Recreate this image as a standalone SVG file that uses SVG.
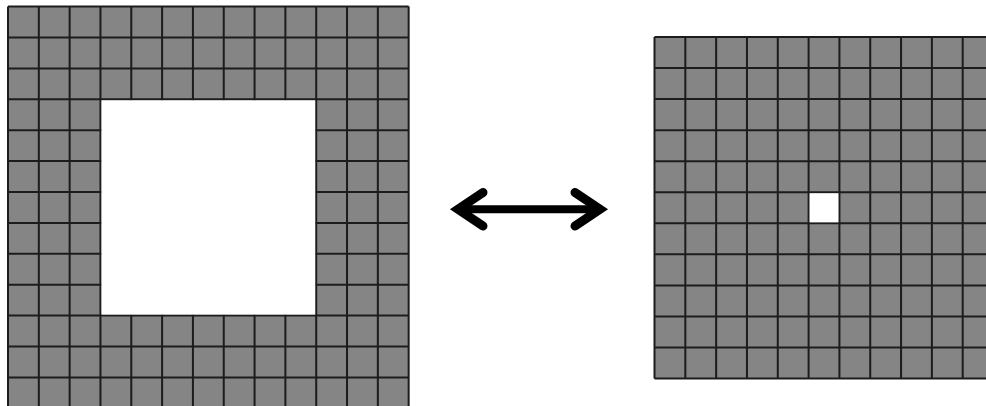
<svg xmlns="http://www.w3.org/2000/svg" width="986" height="406" viewBox="0 0 986 406">
<style>
.cell{fill:#858585;}
.grid{fill:none;stroke:#1c1c1c;stroke-width:2;}
.hole{fill:#ffffff;}
.arrow{fill:none;stroke:#000;stroke-width:9;stroke-linecap:round;stroke-linejoin:miter;stroke-miterlimit:10;}
</style>
<rect width="986" height="406" fill="#ffffff"/>
<g id="grid-left">
<rect class="cell" x="8" y="6.6" width="400.66" height="401.7"/>
<path class="grid" d="M8 6.6V408.3M38.82 6.6V408.3M69.64 6.6V408.3M100.46 6.6V408.3M131.28 6.6V408.3M162.1 6.6V408.3M192.92 6.6V408.3M223.74 6.6V408.3M254.56 6.6V408.3M285.38 6.6V408.3M316.2 6.6V408.3M347.02 6.6V408.3M377.84 6.6V408.3M408.66 6.6V408.3M8 6.6H408.66M8 37.5H408.66M8 68.4H408.66M8 99.3H408.66M8 130.2H408.66M8 161.1H408.66M8 192H408.66M8 222.9H408.66M8 253.8H408.66M8 284.7H408.66M8 315.6H408.66M8 346.5H408.66M8 377.4H408.66M8 408.3H408.66"/>
<rect class="hole" x="101.46" y="100.3" width="213.74" height="214.3"/>
</g>
<g id="grid-right">
<rect class="cell" x="654.5" y="37" width="339" height="341.55"/>
<path class="grid" d="M654.5 37V378.55M685.32 37V378.55M716.14 37V378.55M746.96 37V378.55M777.78 37V378.55M808.6 37V378.55M839.42 37V378.55M870.24 37V378.55M901.06 37V378.55M931.88 37V378.55M962.7 37V378.55M993.52 37V378.55M654.5 37H993.52M654.5 68.05H993.52M654.5 99.1H993.52M654.5 130.15H993.52M654.5 161.2H993.52M654.5 192.25H993.52M654.5 223.3H993.52M654.5 254.35H993.52M654.5 285.4H993.52M654.5 316.45H993.52M654.5 347.5H993.52M654.5 378.55H993.52"/>
<rect class="hole" x="809.6" y="193.25" width="28.82" height="29.05"/>
</g>
<g id="connectors">
<path d="M458 209.3H600" stroke="#000" stroke-width="8" fill="none"/>
<path class="arrow" d="M483 192.5L458 209.3L483 226.1"/>
<path class="arrow" d="M575 192.5L600 209.3L575 226.1"/>
</g>
</svg>
